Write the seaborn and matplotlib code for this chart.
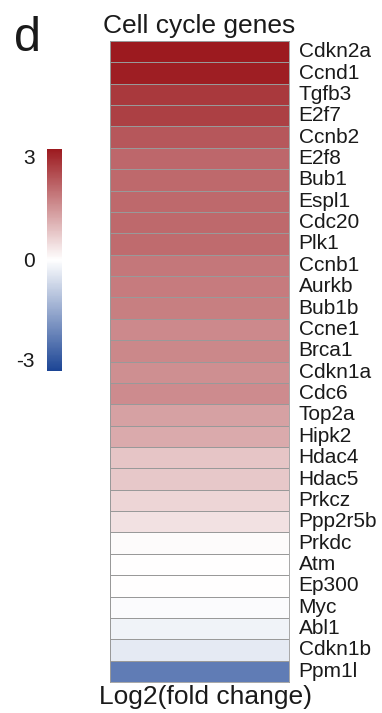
import matplotlib
matplotlib.use('Agg')
import matplotlib.pyplot as plt
from matplotlib.colors import LinearSegmentedColormap
import seaborn as sns
import pandas as pd

genes = ['Cdkn2a', 'Ccnd1', 'Tgfb3', 'E2f7', 'Ccnb2', 'E2f8', 'Bub1', 'Espl1',
         'Cdc20', 'Plk1', 'Ccnb1', 'Aurkb', 'Bub1b', 'Ccne1', 'Brca1', 'Cdkn1a',
         'Cdc6', 'Top2a', 'Hipk2', 'Hdac4', 'Hdac5', 'Prkcz', 'Ppp2r5b', 'Prkdc',
         'Atm', 'Ep300', 'Myc', 'Abl1', 'Cdkn1b', 'Ppm1l']
log2fc = [3.0, 2.95, 2.58, 2.5, 2.2, 1.98, 1.96, 1.95,
          1.95, 1.94, 1.76, 1.73, 1.67, 1.53, 1.55, 1.46,
          1.5, 1.22, 1.12, 0.75, 0.72, 0.54, 0.39, 0.06,
          0.02, 0.0, -0.06, -0.2, -0.34, -2.1]
cbar_ticks = [3, 0, -3]

df = pd.DataFrame({'log2fc': log2fc}, index=genes)

sns.set_style('white')
plt.rcParams['font.family'] = ['Liberation Sans', 'DejaVu Sans']

cmap = LinearSegmentedColormap.from_list('bwr_custom', ['#1c4595', '#ffffff', '#9c1a1f'])

fig = plt.figure(figsize=(3.82, 7.13), dpi=100)
ax = fig.add_axes([110 / 382, 1 - 682 / 713, 179 / 382, 641 / 713])
cax = fig.add_axes([47 / 382, 1 - 371 / 713, 15 / 382, 222 / 713])

sns.heatmap(df, ax=ax, cmap=cmap, vmin=-3, vmax=3, cbar_ax=cax,
            linewidths=0.55, linecolor='#999999', xticklabels=False, yticklabels=True)

# подписи генов справа
ax.yaxis.tick_right()
ax.tick_params(axis='y', length=0, labelsize=15, pad=7, labelrotation=0)
for lab in ax.get_yticklabels():
    lab.set_va('center')
    lab.set_color('#1a1a1a')
for s in ax.spines.values():
    s.set_visible(True)
    s.set_color('#999999')
    s.set_linewidth(0.6)

ax.set_ylabel('')
ax.set_xlabel('Log2(fold change)', fontsize=19, labelpad=2, color='#1a1a1a')
ax.xaxis.set_label_coords(0.535, -0.005)
ax.xaxis.label.set_va('top')
ax.set_title('Cell cycle genes', fontsize=19, pad=6, color='#1a1a1a')

# цветовая шкала: подписи слева
cax.yaxis.set_ticks_position('left')
cax.set_yticks(cbar_ticks)
cax.set_yticklabels([str(t) for t in cbar_ticks])
cax.tick_params(length=0, labelsize=15, pad=9, colors='#1a1a1a')
labs = cax.get_yticklabels()
labs[0].set_va('top')
labs[2].set_va('bottom')
for s in cax.spines.values():
    s.set_visible(False)

fig.text(14 / 382, 1 - 51 / 713, 'd', fontsize=35, color='#1a1a1a', va='baseline')

fig.savefig('out.png', dpi=100)
plt.close()
